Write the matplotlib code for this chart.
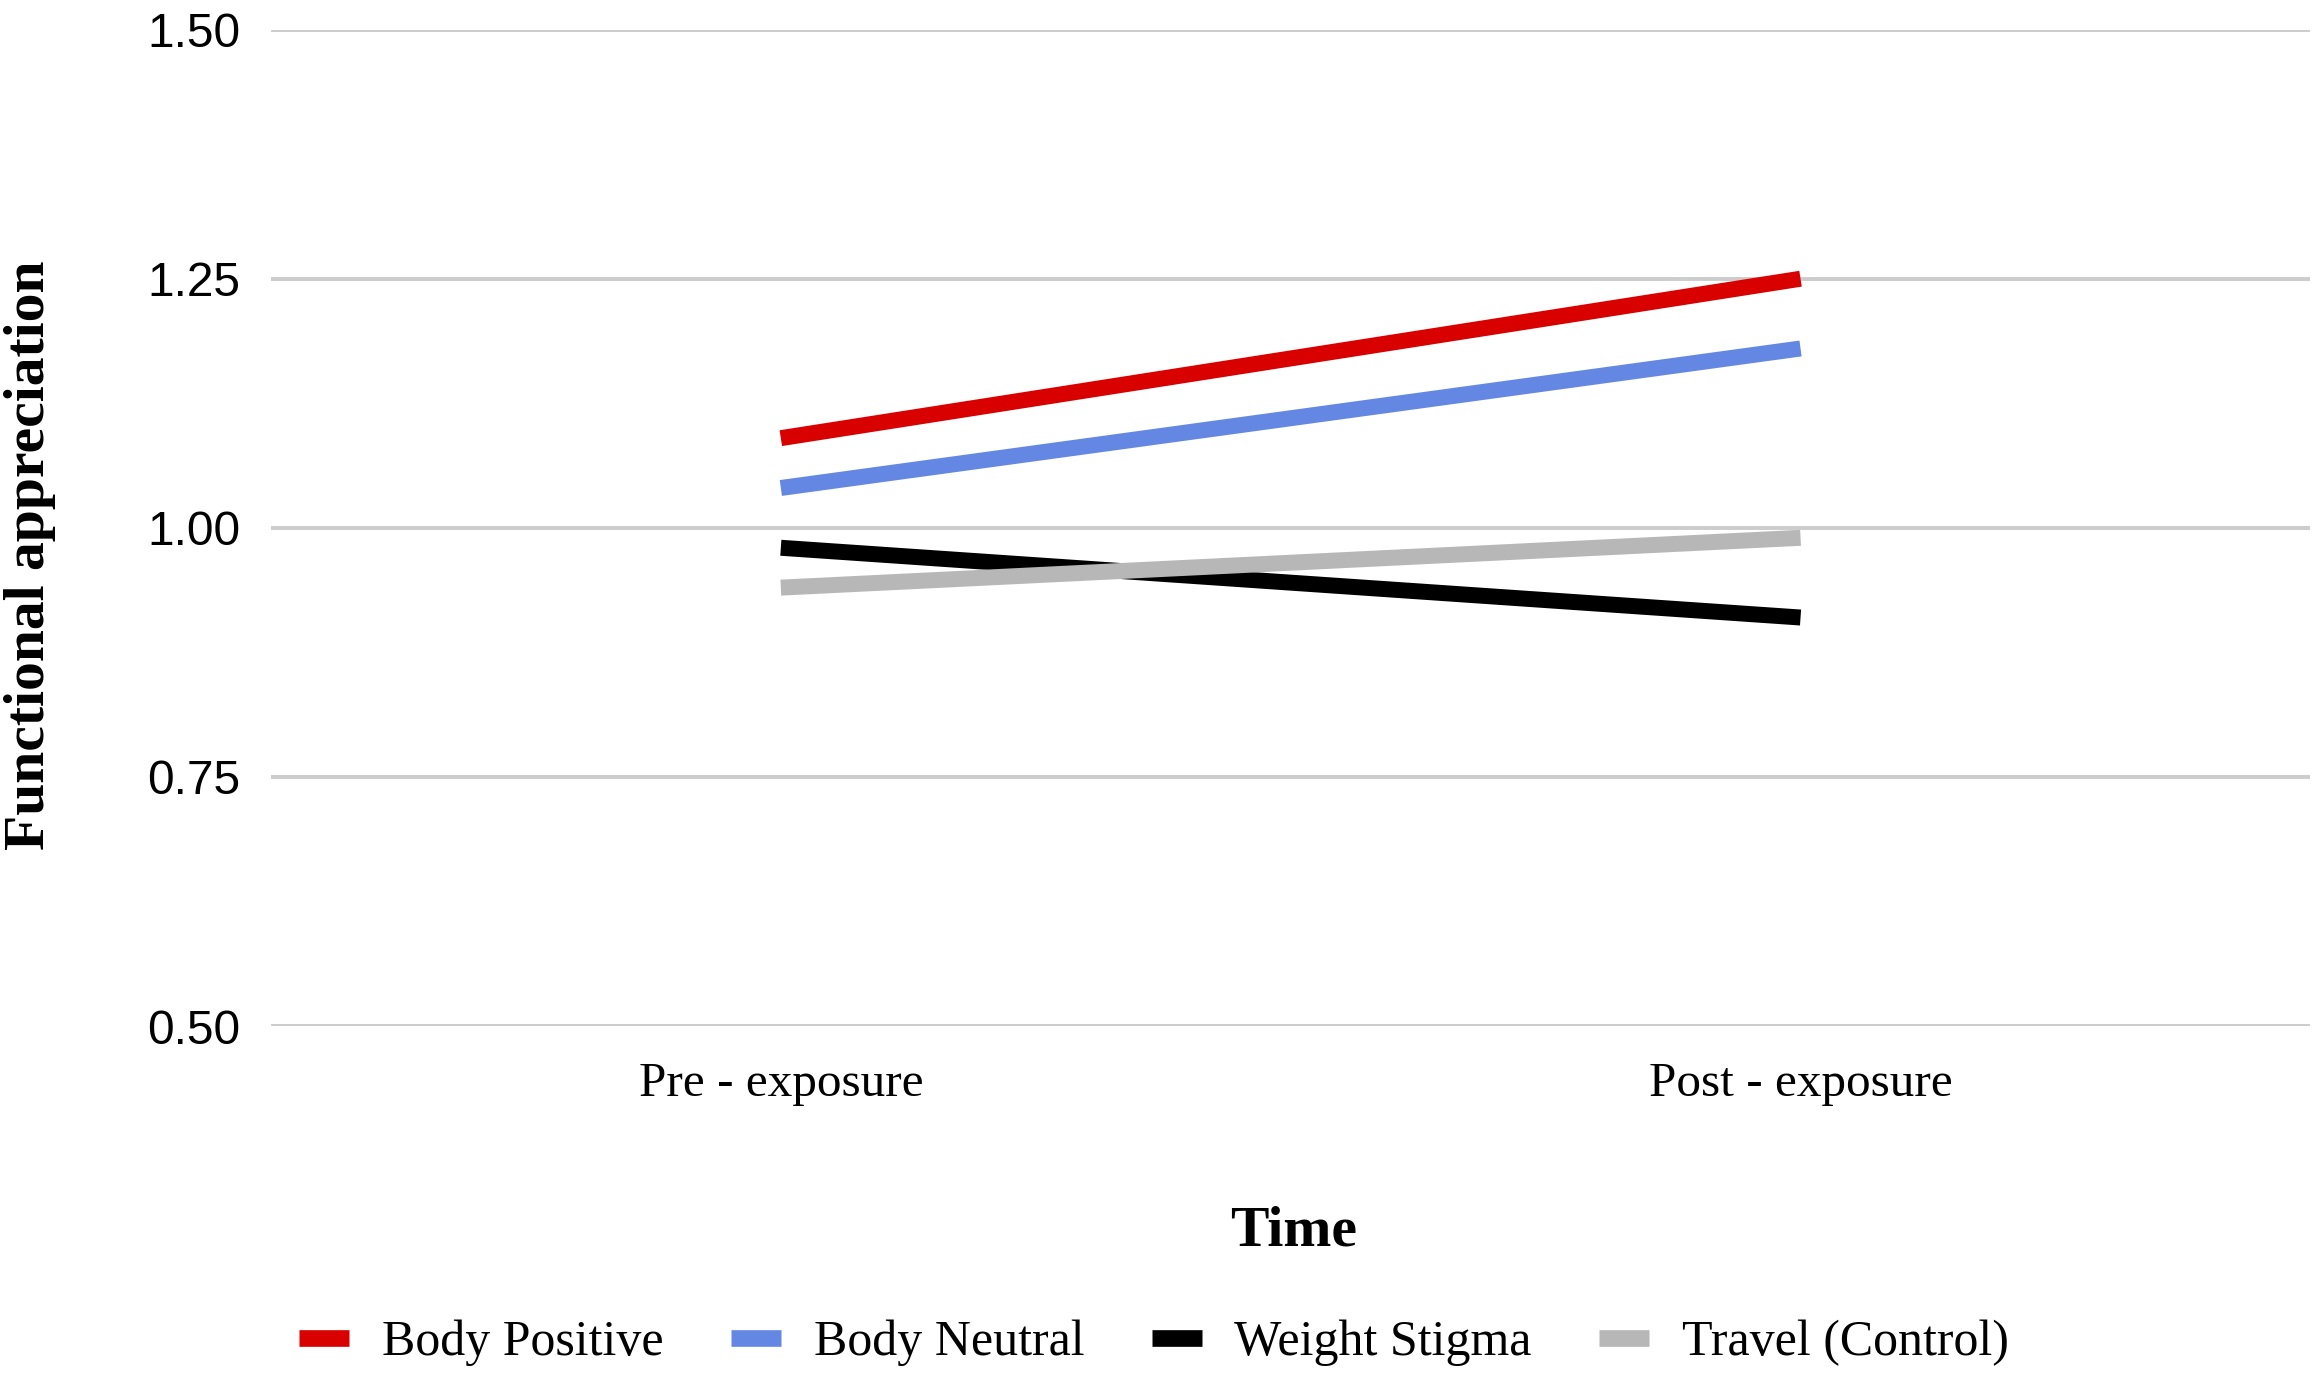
import matplotlib
matplotlib.use("Agg")
import matplotlib.pyplot as plt

# data
times = ["Pre - exposure", "Post - exposure"]
groups = ["Body Positive", "Body Neutral", "Weight Stigma", "Travel (Control)"]
body_positive = [1.09, 1.25]
body_neutral = [1.04, 1.18]
weight_stigma = [0.98, 0.91]
travel_control = [0.94, 0.99]
yticks = [0.50, 0.75, 1.00, 1.25, 1.50]

colors = ["#d90000", "#6487e3", "#000000", "#b7b7b7"]
series = [body_positive, body_neutral, weight_stigma, travel_control]

fig = plt.figure(figsize=(23.22, 13.78), dpi=100)
ax = fig.add_axes([0.1167, 0.2554, 0.8783, 0.7231])

x = [0.5, 1.5]
for vals, col, name in zip(series, colors, groups):
    ax.plot(x, vals, color=col, lw=11.5, solid_capstyle="butt", label=name, zorder=3)

ax.set_xlim(0, 2)
ax.set_ylim(0.5, 1.5)
ax.set_yticks(yticks)
ax.set_yticklabels(["%.2f" % v for v in yticks], family="Liberation Sans", fontsize=34.5)
ax.set_xticks(x)
ax.set_xticklabels(times, family="Liberation Serif", fontsize=35.5)
ax.tick_params(axis="both", length=0)
ax.tick_params(axis="y", pad=22)
ax.tick_params(axis="x", pad=26)
ax.grid(axis="y", color="#cccccc", lw=2.8, zorder=0)
for s in ax.spines.values():
    s.set_visible(False)

fig.text(0.557, 1 - 1232 / 1378, "Time", family="Liberation Serif", fontweight="bold",
         fontsize=41.5, ha="center", va="center")
fig.text(30 / 2322, 1 - 555 / 1378, "Functional appreciation", family="Liberation Serif",
         fontweight="bold", fontsize=41.5, rotation=90, ha="center", va="center")

handles, labels = ax.get_legend_handles_labels()
leg = fig.legend(handles, labels, loc="center", bbox_to_anchor=(0.497, 1 - 1343 / 1378),
                 ncol=4, frameon=False, prop={"family": "Liberation Serif", "size": 36},
                 handlelength=1.0, handletextpad=0.65, columnspacing=1.35)
for h in leg.get_lines():
    h.set_linewidth(12)

fig.savefig("out.png", dpi=100)
